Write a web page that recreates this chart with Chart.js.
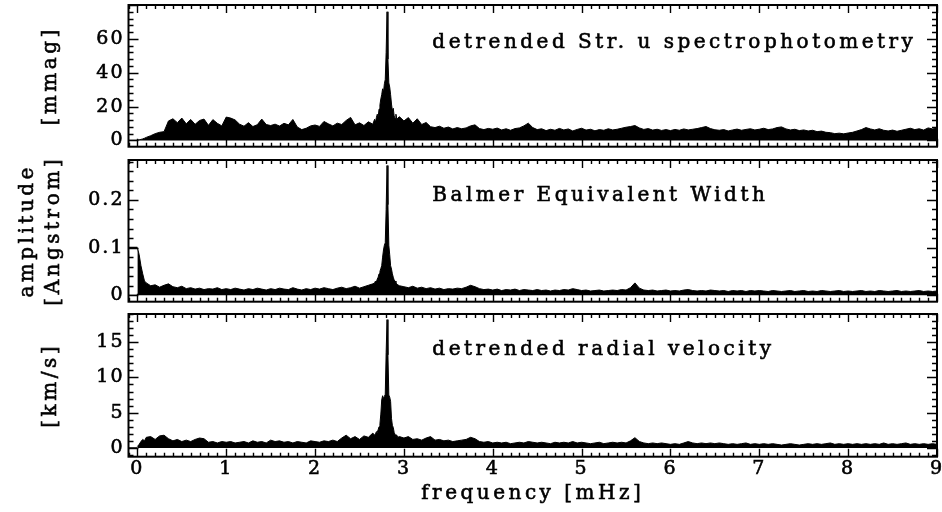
<!DOCTYPE html>
<html><head><meta charset="utf-8">
<script src="https://cdn.jsdelivr.net/npm/chart.js@4/dist/chart.umd.min.js"></script>
<style>
html,body{margin:0;padding:0;background:#fff;}
#wrap{position:relative;width:942px;height:512px;overflow:hidden;background:#fff;}
canvas{position:absolute;left:0;}
</style></head><body>
<div id="wrap">
<canvas id="c1" width="942" height="153" style="top:0px"></canvas>
<canvas id="c2" width="942" height="155" style="top:153px"></canvas>
<canvas id="c3" width="942" height="204" style="top:308px"></canvas>
</div>
<script>
// ---------- DATA ----------
const freq = [
 0,0.02,0.04,0.06,0.08,0.10,
 0.15,0.20,0.25,0.30,0.35,0.40,0.45,0.50,0.55,0.60,0.65,0.70,0.75,0.80,0.85,0.90,0.95,1.00,
 1.05,1.10,1.15,1.20,1.25,1.30,1.35,1.40,1.45,1.50,1.55,1.60,1.65,1.70,1.75,1.80,1.85,1.90,1.95,2.00,
 2.05,2.10,2.15,2.20,2.25,2.30,2.35,2.40,2.45,2.50,2.55,2.60,2.65,
 2.67,2.68,2.69,2.70,2.71,2.72,2.73,2.74,2.75,2.76,2.77,2.78,2.79,2.80,2.81,2.82,2.83,2.84,2.85,2.86,2.87,2.88,2.89,2.90,2.91,2.92,2.93,
 2.95,3.00,3.05,3.10,3.15,3.20,3.25,3.30,3.35,3.40,3.45,3.50,3.55,3.60,3.65,3.70,3.75,3.80,3.85,3.90,3.95,4.00,
 4.05,4.10,4.15,4.20,4.25,4.30,4.35,4.40,4.45,4.50,4.55,4.60,4.65,4.70,4.75,4.80,4.85,4.90,4.95,5.00,
 5.05,5.10,5.15,5.20,5.25,5.30,5.35,5.40,5.45,5.50,5.55,5.60,5.65,5.70,5.75,5.80,5.85,5.90,5.95,6.00,
 6.05,6.10,6.15,6.20,6.25,6.30,6.35,6.40,6.45,6.50,6.55,6.60,6.65,6.70,6.75,6.80,6.85,6.90,6.95,7.00,
 7.05,7.10,7.15,7.20,7.25,7.30,7.35,7.40,7.45,7.50,7.55,7.60,7.65,7.70,7.75,7.80,7.85,7.90,7.95,8.00,
 8.05,8.10,8.15,8.20,8.25,8.30,8.35,8.40,8.45,8.50,8.55,8.60,8.65,8.70,8.75,8.80,8.85,8.90,8.95,9.00
];
// detrended Str. u spectrophotometry [mmag]
const ampU = [
 0.3,0.4,0.6,0.9,1.3,1.8,
 2.8,4.0,4.8,5.2,11.5,12.8,10.5,13.2,9.8,12.4,9.5,11.8,12.6,8.9,12.3,10.1,8.6,13.8,
 13.2,12.1,9.6,8.4,10.5,8.2,9.3,12.6,9.4,8.8,9.6,8.5,10.1,9.2,12.4,7.9,6.4,7.2,8.6,9.1,
 8.3,11.2,9.8,8.6,10.2,9.4,11.8,13.6,9.2,10.4,8.8,11.0,9.6,
 12.5,10.8,13.5,15.5,13.8,18.5,21.0,24.5,27.0,30.5,28.5,33.5,36.0,52.0,76.0,48.0,34.0,31.5,27.0,21.5,17.5,19.0,14.5,13.0,15.5,12.5,13.2,
 14.0,11.5,13.5,10.2,12.8,9.4,10.6,8.1,7.6,8.4,7.2,7.9,6.8,7.6,6.9,7.4,8.6,9.2,7.0,6.4,7.1,6.6,
 7.3,6.2,6.9,6.0,7.0,7.4,8.6,10.2,7.6,6.4,6.9,5.8,6.6,6.0,7.1,6.2,6.8,5.6,6.5,7.2,
 6.1,6.6,5.7,6.4,6.0,6.9,6.2,6.6,7.2,7.8,8.2,8.8,7.4,6.5,7.0,6.1,6.6,5.9,6.4,5.8,
 6.5,6.0,6.8,6.2,6.6,7.0,7.6,8.2,7.0,6.3,6.0,6.4,5.6,6.2,6.7,6.0,6.5,6.9,6.2,6.6,
 7.2,6.4,6.8,7.6,8.0,6.8,6.2,6.6,5.8,6.2,5.6,6.0,5.2,5.5,4.8,4.6,4.0,4.3,3.9,4.4,
 4.8,5.6,6.4,7.6,6.8,6.2,6.9,6.0,5.6,6.1,5.4,6.0,6.6,7.2,6.4,6.9,6.1,7.4,6.8,7.2
];
// Balmer Equivalent Width [Angstrom]
const ampB = [
 0.100,0.085,0.062,0.045,0.030,0.026,
 0.020,0.022,0.017,0.021,0.024,0.018,0.016,0.019,0.014,0.016,0.013,0.015,0.012,0.014,0.013,0.016,0.012,0.014,
 0.012,0.015,0.013,0.011,0.014,0.012,0.015,0.013,0.011,0.014,0.012,0.015,0.013,0.012,0.016,0.013,0.011,0.014,0.012,0.015,
 0.013,0.016,0.014,0.012,0.015,0.017,0.014,0.016,0.019,0.015,0.018,0.021,0.024,
 0.026,0.030,0.028,0.034,0.038,0.045,0.050,0.056,0.062,0.080,0.095,0.105,0.110,0.180,0.272,0.190,0.105,0.085,0.062,0.055,0.045,0.038,0.032,0.030,0.026,0.024,0.022,
 0.020,0.018,0.016,0.019,0.015,0.017,0.014,0.016,0.013,0.015,0.012,0.014,0.013,0.015,0.014,0.017,0.021,0.018,0.014,0.012,0.013,0.011,
 0.013,0.010,0.012,0.011,0.013,0.010,0.012,0.011,0.010,0.012,0.010,0.011,0.009,0.011,0.010,0.012,0.011,0.014,0.012,0.010,
 0.011,0.009,0.010,0.011,0.009,0.010,0.011,0.010,0.012,0.011,0.016,0.026,0.015,0.011,0.010,0.011,0.009,0.010,0.011,0.009,
 0.010,0.009,0.011,0.012,0.010,0.009,0.010,0.009,0.011,0.010,0.009,0.010,0.008,0.010,0.009,0.010,0.008,0.010,0.009,0.010,
 0.009,0.008,0.010,0.009,0.008,0.009,0.010,0.008,0.009,0.010,0.008,0.009,0.008,0.010,0.009,0.008,0.009,0.010,0.008,0.009,
 0.008,0.009,0.010,0.008,0.009,0.008,0.010,0.009,0.008,0.009,0.010,0.008,0.009,0.008,0.009,0.010,0.008,0.009,0.008,0.009
];
// detrended radial velocity [km/s]
const ampV = [
 0.2,0.5,0.9,1.2,1.0,1.5,
 1.6,1.2,1.7,1.8,1.3,1.0,1.2,0.9,1.1,0.9,1.2,1.4,1.3,0.8,0.9,0.7,0.9,0.8,
 0.9,0.7,0.8,0.9,0.7,1.0,0.8,0.9,0.7,1.1,0.9,1.0,0.8,0.9,0.7,0.9,0.8,0.7,1.0,0.9,
 0.8,1.0,0.9,1.1,0.9,1.4,1.8,1.3,1.6,1.2,1.7,1.5,2.1,
 1.8,2.0,2.3,2.2,2.6,3.0,3.4,4.8,6.8,7.4,7.0,7.3,7.6,13.5,18.2,13.2,7.5,7.2,6.6,4.2,3.2,2.9,2.2,1.9,1.6,1.8,1.5,
 1.6,1.4,1.6,1.2,1.3,1.1,1.4,1.6,1.1,1.2,1.0,1.1,0.9,1.0,1.1,1.2,1.5,1.3,0.9,0.8,0.9,0.7,
 0.8,0.7,0.8,0.6,0.7,0.8,0.7,0.9,0.8,0.7,0.8,0.7,0.6,0.8,0.7,0.8,0.7,0.9,0.7,0.8,
 0.7,0.6,0.7,0.8,0.6,0.7,0.8,0.7,0.8,0.7,1.0,1.45,0.9,0.7,0.6,0.7,0.6,0.7,0.6,0.5,
 0.6,0.5,0.7,0.9,0.7,0.6,0.7,0.6,0.7,0.6,0.7,0.6,0.5,0.6,0.5,0.6,0.7,0.5,0.6,0.5,
 0.6,0.5,0.6,0.5,0.4,0.5,0.6,0.5,0.4,0.5,0.6,0.5,0.6,0.5,0.6,0.7,0.5,0.6,0.5,0.6,
 0.5,0.6,0.5,0.6,0.5,0.6,0.5,0.7,0.5,0.6,0.5,0.6,0.7,0.5,0.6,0.5,0.6,0.5,0.6,0.5
];
// short lines left of zero frequency
const edgeFreq = [-0.1, 0];
const edgeZero = [0, 0];
const edgeB = [0.1, 0.1];

const xTicks = [0,1,2,3,4,5,6,7,8,9];
const xTickLabels = ['0','1','2','3','4','5','6','7','8','9'];
const uTicks = [0,20,40,60];
const uTickLabels = ['0','20','40','60'];
const bTicks = [0,0.1,0.2];
const bTickLabels = ['0','0.1','0.2'];
const vTicks = [0,5,10,15];
const vTickLabels = ['0','5','10','15'];

// ---------- RENDERING ----------
const FONT = "'DejaVu Serif', 'Liberation Serif', serif";
const TICK_SPACING = '2px';
const TEXT_SPACING = '3.5px';
const tickFont = {family: FONT, size: 19};
const TEXT_FONT = "20px " + FONT;
const STROKE_W = 0.6;

function pts(xs, ys){ return xs.map((x,i)=>({x:x, y:ys[i]})); }

const spacingPlugin = {
  id: 'spacing',
  beforeDraw(chart){ chart.ctx.letterSpacing = TICK_SPACING; }
};

function boldText(ctx, t, x, y){
  ctx.fillText(t, x, y);
  ctx.strokeText(t, x, y);
}

const frameTicks = {
  id: 'frameTicks',
  afterDatasetsDraw(chart, args, o){
    const {ctx, chartArea: a, scales: {x, y}} = chart;
    ctx.save();
    ctx.strokeStyle = '#000';
    ctx.lineWidth = 1.4;
    ctx.beginPath();
    for (let k = -1; k <= 90; k++) {
      const v = k / 10;
      if (v < x.min - 1e-9 || v > x.max + 1e-9) continue;
      const px = Math.round(x.getPixelForValue(v)) + 0.5;
      const len = (k % 10 === 0) ? 8 : 4;
      ctx.moveTo(px, a.bottom); ctx.lineTo(px, a.bottom - len);
      ctx.moveTo(px, a.top); ctx.lineTo(px, a.top + len);
    }
    const step = o.minor;
    const n0 = Math.ceil(y.min / step), n1 = Math.floor(y.max / step);
    for (let k = n0; k <= n1; k++) {
      const v = k * step;
      const py = Math.round(y.getPixelForValue(v)) + 0.5;
      const major = Math.abs(Math.round(v / o.major) * o.major - v) < step * 0.01;
      const len = major ? 10 : 5;
      ctx.moveTo(a.left, py); ctx.lineTo(a.left + len, py);
      ctx.moveTo(a.right, py); ctx.lineTo(a.right - len, py);
    }
    ctx.stroke();
    ctx.lineWidth = 2;
    ctx.strokeRect(a.left, a.top, a.right - a.left, a.bottom - a.top);

    ctx.fillStyle = '#000';
    ctx.lineWidth = STROKE_W;
    ctx.font = TEXT_FONT;
    ctx.letterSpacing = TEXT_SPACING;
    ctx.textBaseline = 'middle';
    ctx.textAlign = 'left';
    boldText(ctx, o.text, x.getPixelForValue(o.tx), y.getPixelForValue(o.ty));
    ctx.textAlign = 'center';
    const cy = (a.top + a.bottom) / 2;
    o.yTitle.forEach((t, i) => {
      ctx.save();
      ctx.translate(o.yTitleX[i], cy);
      ctx.rotate(-Math.PI / 2);
      boldText(ctx, t, 0, 0);
      ctx.restore();
    });
    if (o.xTitle) {
      boldText(ctx, o.xTitle, (a.left + a.right) / 2, o.xTitleY);
    }
    ctx.restore();
  }
};

function makeChart(id, cfg){
  const datasets = [
    {data: pts(freq, cfg.amp), borderColor:'#000', backgroundColor:'#000', borderWidth:1, fill:'origin', pointRadius:0, tension:0},
    {data: pts(edgeFreq, edgeZero), borderColor:'#000', borderWidth:1.2, fill:false, pointRadius:0}
  ];
  if (cfg.edgeTop) datasets.push({data: pts(edgeFreq, cfg.edgeTop), borderColor:'#000', borderWidth:1.5, fill:false, pointRadius:0});
  return new Chart(document.getElementById(id), {
    type: 'line',
    data: {datasets},
    plugins: [spacingPlugin, frameTicks],
    options: {
      responsive: false, animation: false, devicePixelRatio: 1,
      events: [],
      layout: {padding: {left: 0, right: 5, top: cfg.padTop, bottom: cfg.padBottom}},
      plugins: {legend: {display:false}, tooltip: {enabled:false},
        frameTicks: {text: cfg.text, tx: cfg.tx, ty: cfg.ty, minor: cfg.minor, major: cfg.major,
                     yTitle: cfg.yTitle, yTitleX: cfg.yTitleX, xTitle: cfg.xTitle, xTitleY: cfg.xTitleY}},
      scales: {
        x: {
          type: 'linear', min: -0.1, max: 9.0,
          display: cfg.showX,
          grid: {display:false, drawTicks:false}, border: {display:false},
          afterBuildTicks: s => { s.ticks = xTicks.map(v => ({value: v})); },
          afterFit: s => { s.paddingLeft = 0; s.paddingRight = 0; if (cfg.showX) s.height = cfg.xHeight; },
          ticks: {autoSkip:false, maxRotation:0, color:'#000', font: tickFont, padding: 1,
                  textStrokeColor:'#000', textStrokeWidth: STROKE_W,
                  callback: (v, i) => xTickLabels[i]},
          title: {display: false}
        },
        y: {
          type: 'linear', min: cfg.ymin, max: cfg.ymax,
          grid: {display:false, drawTicks:false}, border: {display:false},
          afterBuildTicks: s => { s.ticks = cfg.ticks.map(v => ({value: v})); },
          afterFit: s => { s.width = 128.5; s.paddingTop = 0; s.paddingBottom = 0; },
          ticks: {color:'#000', font: tickFont, padding: 4,
                  textStrokeColor:'#000', textStrokeWidth: STROKE_W,
                  callback: (v, i) => cfg.tickLabels[i]},
          title: {display: false}
        }
      }
    }
  });
}

makeChart('c1', {amp: ampU, ymin: -3.7, ymax: 80, ticks: uTicks, tickLabels: uTickLabels,
  yTitle: ['[mmag]'], yTitleX: [51], text: 'detrended Str. u spectrophotometry', tx: 3.32, ty: 57.5,
  minor: 4, major: 20, padTop: 5, padBottom: 6.3, showX: false});
makeChart('c2', {amp: ampB, edgeTop: edgeB, ymin: -0.0134, ymax: 0.2836, ticks: bTicks, tickLabels: bTickLabels,
  yTitle: ['amplitude', '[Angstrom]'], yTitleX: [28, 54], text: 'Balmer Equivalent Width', tx: 3.32, ty: 0.208,
  minor: 0.02, major: 0.1, padTop: 7, padBottom: 6.3, showX: false});
makeChart('c3', {amp: ampV, ymin: -1.25, ymax: 19.0, ticks: vTicks, tickLabels: vTickLabels,
  yTitle: ['[km/s]'], yTitleX: [51], text: 'detrended radial velocity', tx: 3.32, ty: 13.9,
  xTitle: 'frequency [mHz]', xTitleY: 186,
  minor: 1, major: 5, padTop: 6, padBottom: 0, showX: true, xHeight: 55.3});
</script>
</body></html>
